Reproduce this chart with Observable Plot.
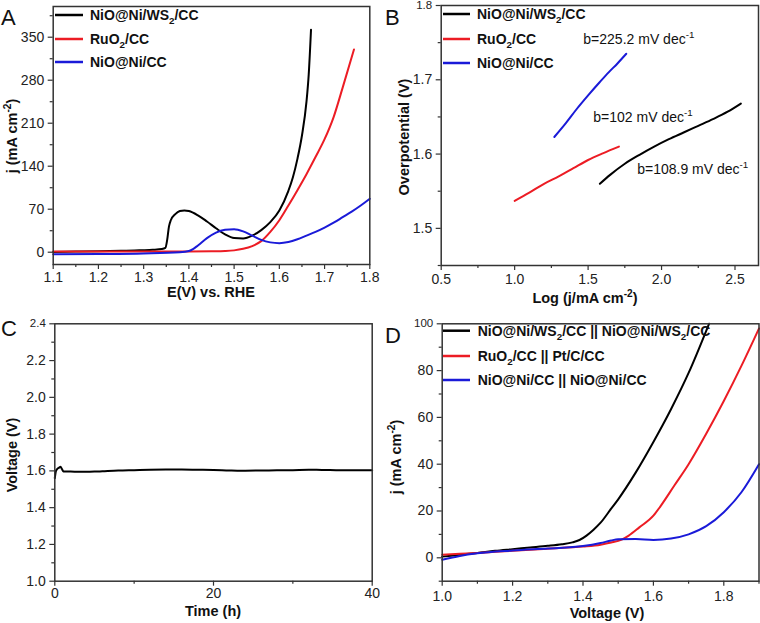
<!DOCTYPE html>
<html><head><meta charset="utf-8">
<script src="https://cdn.jsdelivr.net/npm/d3@7"></script>
<script src="https://cdn.jsdelivr.net/npm/@observablehq/plot@0.6"></script>
<style>
body{margin:0;background:#fff;}
#fig{position:relative;width:760px;height:623px;overflow:hidden;background:#fff;}
#fig svg{position:absolute;}
</style></head><body><div id="fig"></div>
<script>
// ---------- Panel A: LSV ----------
const aBlackX = [1.10,1.15,1.20,1.25,1.28,1.30,1.32,1.34,1.348,1.352,1.356,1.36,1.37,1.38,1.39,1.40,1.42,1.44,1.46,1.48,1.50,1.52,1.54,1.56,1.58,1.60,1.62,1.63,1.64,1.65,1.66,1.665,1.67];
const aBlackY = [0.5,1,1.5,2.2,2.8,3.3,4,5.2,7,20,42,52,62,67,68,67,60,50,39,29,23,22.5,27,36,49,68,100,122,152,190,245,290,362];
const aRedX = [1.10,1.20,1.30,1.40,1.45,1.48,1.50,1.52,1.54,1.56,1.58,1.60,1.62,1.64,1.66,1.68,1.70,1.72,1.74,1.765];
const aRedY = [1.2,1.2,1.2,1.2,1.5,2,3,5.5,10,18,33,52,76,101,127,155,184,220,268,330];
const aBlueX = [1.10,1.20,1.30,1.38,1.40,1.41,1.42,1.44,1.46,1.48,1.50,1.52,1.54,1.56,1.58,1.60,1.62,1.64,1.66,1.68,1.70,1.72,1.74,1.76,1.78,1.80];
const aBlueY = [-3.5,-3,-2,0,2,5.5,11,23,32,36.5,37.5,34,27,20,16,14.7,16.5,21,27,33,40,48,57,66,76,87];
const aXTicks = [1.1,1.2,1.3,1.4,1.5,1.6,1.7,1.8];
const aXMinor = [1.15,1.25,1.35,1.45,1.55,1.65,1.75];
const aYTicks = [0,70,140,210,280,350];
const aYMinor = [35,105,175,245,315,385];
const aLegend = ["NiO@Ni/WS_{2}/CC","RuO_{2}/CC","NiO@Ni/CC"];

// ---------- Panel B: Tafel ----------
const bBlackX = [1.58,1.65,1.75,1.85,1.95,2.05,2.15,2.25,2.35,2.45,2.54];
const bBlackY = [1.560,1.572,1.587,1.599,1.610,1.620,1.629,1.638,1.647,1.657,1.668];
const bRedX = [1.00,1.10,1.20,1.30,1.40,1.50,1.60,1.71];
const bRedY = [1.537,1.548,1.560,1.570,1.581,1.592,1.601,1.610];
const bBlueX = [1.27,1.35,1.42,1.50,1.58,1.64,1.70,1.76];
const bBlueY = [1.623,1.642,1.660,1.679,1.697,1.710,1.722,1.735];
const bXTicks = [0.5,1.0,1.5,2.0,2.5];
const bXMinor = [0.75,1.25,1.75,2.25];
const bYTicks = [1.5,1.6,1.7,1.8];
const bYMinor = [1.45,1.55,1.65,1.75];
const bLegend = ["NiO@Ni/WS_{2}/CC","RuO_{2}/CC","NiO@Ni/CC"];
const bNoteText = ["b=225.2 mV dec^{-1}","b=102 mV dec^{-1}","b=108.9 mV dec^{-1}"];
const bNoteX = [1.471,1.539,1.838];
const bNoteY = [1.754,1.649,1.579];

// ---------- Panel C: stability ----------
const cTime = [0,0.15,0.35,0.55,0.72,0.9,1.1,1.5,2,3,4,5,6,8,10,12,14,16,18,20,22,23,24,26,28,30,32,33,34,36,38,40];
const cVolt = [1.56,1.60,1.612,1.618,1.623,1.61,1.597,1.596,1.596,1.595,1.595,1.596,1.598,1.602,1.604,1.606,1.607,1.607,1.606,1.605,1.602,1.601,1.601,1.602,1.603,1.604,1.606,1.606,1.605,1.603,1.603,1.604];
const cXTicks = [0,20,40];
const cXMinor = [10,30];
const cYTicks = [1.0,1.2,1.4,1.6,1.8,2.0,2.2,2.4];
const cYMinor = [1.1,1.3,1.5,1.7,1.9,2.1,2.3];

// ---------- Panel D: two-electrode ----------
const dBlackX = [1.00,1.05,1.10,1.15,1.20,1.25,1.30,1.34,1.37,1.39,1.41,1.43,1.45,1.48,1.50,1.55,1.60,1.65,1.70,1.758];
const dBlackY = [0.5,1.3,2.1,3.0,3.7,4.4,5.1,5.8,6.6,7.6,9.5,12,15,21,25,36.5,49.5,63.5,79,100];
const dRedX = [1.00,1.05,1.10,1.20,1.30,1.40,1.45,1.48,1.51,1.53,1.56,1.60,1.62,1.66,1.70,1.75,1.80,1.85,1.90];
const dRedY = [1.3,1.7,2.1,3.0,3.9,4.8,5.6,6.5,7.8,9.5,13,18,22,31,40,53,67,82,98];
const dBlueX = [1.00,1.05,1.10,1.20,1.30,1.40,1.45,1.48,1.50,1.55,1.60,1.65,1.70,1.75,1.80,1.85,1.90];
const dBlueY = [-0.8,0.8,1.9,3.1,4.0,5.0,6.3,7.4,7.9,8.0,7.6,8.2,10,13.5,19.5,28,40];
const dXTicks = [1.0,1.2,1.4,1.6,1.8];
const dXMinor = [1.1,1.3,1.5,1.7,1.9];
const dYTicks = [0,20,40,60,80,100];
const dYMinor = [-10,10,30,50,70,90];
const dLegend = ["NiO@Ni/WS_{2}/CC || NiO@Ni/WS_{2}/CC","RuO_{2}/CC || Pt/C/CC","NiO@Ni/CC || NiO@Ni/CC"];

// ---------- styling ----------
const FONT = "'Liberation Sans', Arial, Helvetica, sans-serif";
const BLACK = "#000000", RED = "#ec1c24", BLUE = "#1a1ad8";
const fig = document.getElementById("fig");
const pts = (xs, ys) => xs.map((x, i) => ({x, y: ys[i]}));

function rich(g, str, o) {
  const size = o.size;
  const t = g.append("text")
    .attr("x", o.x ?? 0).attr("y", o.y ?? 0)
    .attr("font-family", FONT).attr("font-size", size)
    .attr("font-weight", o.weight || "normal")
    .attr("text-anchor", o.anchor || "start")
    .attr("fill", o.fill || "#111");
  if (o.transform) t.attr("transform", o.transform);
  const re = /([_^])\{([^}]*)\}/g;
  let last = 0, cur = 0, m;
  const add = (s, off, sz) => {
    if (!s) return;
    const sp = t.append("tspan").text(s).attr("dy", off - cur);
    if (sz) sp.attr("font-size", sz);
    cur = off;
  };
  while ((m = re.exec(str))) {
    add(str.slice(last, m.index), 0);
    add(m[2], m[1] === "_" ? size * 0.3 : -size * 0.42, size * 0.7);
    last = re.lastIndex;
  }
  add(str.slice(last), 0);
  return t;
}

function panel(c) {
  const marks = c.series.map(s => Plot.line(pts(s.x, s.y), {
    x: "x", y: "y", stroke: s.color, strokeWidth: 2, curve: "monotone-x"
  }));
  const common = {stroke: "#333", strokeWidth: 1.2, label: null, fontSize: 14};
  marks.push(
    Plot.axisX({...common, ticks: c.xMinor, tickSize: 3, fill: null}),
    Plot.axisX({...common, ticks: c.xMajor, tickSize: 5, tickPadding: c.xPad ?? 4, tickFormat: c.xFmt, fill: "#222"}),
    Plot.axisY({...common, ticks: c.yMinor, tickSize: 3, fill: null}),
    Plot.axisY({...common, ticks: c.yMajor, tickSize: 5, tickPadding: 4, tickFormat: c.yFmt, fill: "#222"}),
    Plot.frame({stroke: "#333", strokeWidth: 1.5})
  );
  const svg = Plot.plot({
    width: c.width, height: c.height,
    marginTop: c.mt, marginRight: c.mr, marginBottom: c.mb, marginLeft: c.ml,
    x: {domain: c.xDomain, label: null},
    y: {domain: c.yDomain, label: null},
    style: {fontFamily: FONT, fontSize: "14px", color: "#222", background: "white", overflow: "visible"},
    marks
  });
  svg.style.left = c.left + "px";
  svg.style.top = c.top + "px";
  fig.appendChild(svg);
  const g = d3.select(svg).append("g");
  if (c.shrinkTop) {
    const labels = d3.select(svg).selectAll('g[aria-label="y-axis tick label"] text').nodes();
    if (labels.length) d3.select(labels[labels.length - 1]).attr("font-size", 11.5);
  }
  // panel letter
  g.append("text").attr("x", c.letterX).attr("y", c.letterY).attr("font-family", FONT)
    .attr("text-anchor", "start").attr("font-size", 22).attr("fill", "#111").text(c.letter);
  // axis titles
  rich(g, c.xTitle, {x: c.xTitleX, y: c.xTitleY, size: 14.5, weight: "bold", anchor: "middle"});
  rich(g, c.yTitle, {size: 14.5, weight: "bold", anchor: "middle",
    transform: `translate(${c.yTitleX},${c.yTitleY}) rotate(-90)`});
  // legend
  c.legend.forEach((lab, i) => {
    const y = c.legYs[i];
    g.append("line").attr("x1", c.legX1).attr("x2", c.legX2).attr("y1", y).attr("y2", y)
      .attr("stroke", c.series[i].color).attr("stroke-width", 2.5);
    rich(g, lab, {x: c.legTX, y: y + 5, size: 14, weight: "bold"});
  });
  return {svg, g};
}

const fx1 = d3.format(".1f"), fint = d3.format("d");

panel({
  left: 0, top: 0, width: 380, height: 310, mt: 6, mr: 10.7, mb: 46, ml: 52.7,
  xDomain: [1.1, 1.8], yDomain: [-20, 400],
  xMajor: aXTicks, xMinor: aXMinor, yMajor: aYTicks, yMinor: aYMinor, xFmt: fx1, yFmt: fint,
  xPad: 3,
  series: [{x: aBlackX, y: aBlackY, color: BLACK}, {x: aRedX, y: aRedY, color: RED}, {x: aBlueX, y: aBlueY, color: BLUE}],
  letter: "A", letterX: 1, letterY: 25,
  xTitle: "E(V) vs. RHE", xTitleX: 211, xTitleY: 297,
  yTitle: "j (mA cm^{-2})", yTitleX: 17, yTitleY: 136,
  legend: aLegend, legYs: [15, 39, 62], legX1: 55, legX2: 83, legTX: 90
});

const B = panel({
  left: 380, top: 0, width: 380, height: 310, mt: 5, mr: 2, mb: 45, ml: 60.7,
  xDomain: [0.5, 2.66], yDomain: [1.45, 1.8],
  xMajor: bXTicks, xMinor: bXMinor, yMajor: bYTicks, yMinor: bYMinor, xFmt: fx1, yFmt: fx1,
  shrinkTop: true,
  series: [{x: bBlackX, y: bBlackY, color: BLACK}, {x: bRedX, y: bRedY, color: RED}, {x: bBlueX, y: bBlueY, color: BLUE}],
  letter: "B", letterX: 5, letterY: 25,
  xTitle: "Log (j/mA cm^{-2})", xTitleX: 205, xTitleY: 303,
  yTitle: "Overpotential (V)", yTitleX: 29, yTitleY: 137,
  legend: bLegend, legYs: [14, 39, 63], legX1: 63, legX2: 90, legTX: 97
});
{
  const sx = B.svg.scale("x"), sy = B.svg.scale("y");
  bNoteText.forEach((t, i) => {
    rich(B.g, t, {x: sx.apply(bNoteX[i]), y: sy.apply(bNoteY[i]) + 5, size: 14, fill: "#111"});
  });
}

panel({
  left: 0, top: 310, width: 380, height: 313, mt: 13.3, mr: 8.3, mb: 42.3, ml: 54.3,
  xDomain: [0, 40], yDomain: [1.0, 2.4],
  xMajor: cXTicks, xMinor: cXMinor, yMajor: cYTicks, yMinor: cYMinor, xFmt: fint, yFmt: fx1,
  shrinkTop: true, xPad: 2,
  series: [{x: cTime, y: cVolt, color: BLACK}],
  letter: "C", letterX: 1, letterY: 26,
  xTitle: "Time (h)", xTitleX: 213, xTitleY: 306,
  yTitle: "Voltage (V)", yTitleX: 17, yTitleY: 145,
  legend: [], legYs: [], legX1: 0, legX2: 0, legTX: 0
});

panel({
  left: 380, top: 310, width: 380, height: 313, mt: 13.3, mr: 1.5, mb: 42.3, ml: 61.7,
  xDomain: [1.0, 1.9], yDomain: [-10, 100],
  xMajor: dXTicks, xMinor: dXMinor, yMajor: dYTicks, yMinor: dYMinor, xFmt: fx1, yFmt: fint,
  shrinkTop: true, xPad: 5,
  series: [{x: dBlackX, y: dBlackY, color: BLACK}, {x: dRedX, y: dRedY, color: RED}, {x: dBlueX, y: dBlueY, color: BLUE}],
  letter: "D", letterX: 5, letterY: 33,
  xTitle: "Voltage (V)", xTitleX: 227, xTitleY: 308,
  yTitle: "j (mA cm^{-2})", yTitleX: 21, yTitleY: 147,
  legend: dLegend, legYs: [20.7, 46, 70], legX1: 63, legX2: 90, legTX: 97.7
});
</script>
</body></html>
